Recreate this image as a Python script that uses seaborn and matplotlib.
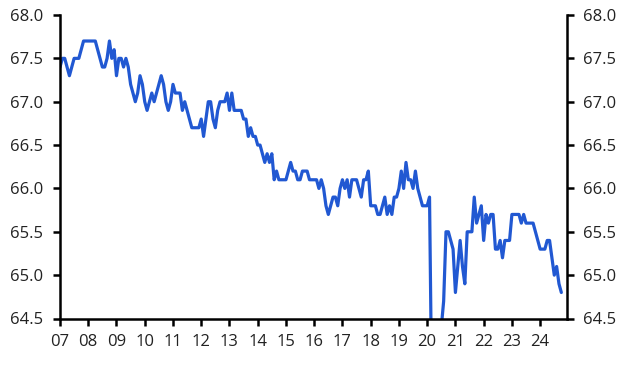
import numpy as np
import pandas as pd
import matplotlib
matplotlib.use("Agg")
import matplotlib.pyplot as plt
import seaborn as sns

# Monthly values, Jan 2007 onwards (one list per year)
y2007 = [67.4, 67.5, 67.5, 67.4, 67.3, 67.4, 67.5, 67.5, 67.5, 67.6, 67.7, 67.7]
y2008 = [67.7, 67.7, 67.7, 67.7, 67.6, 67.5, 67.4, 67.4, 67.5, 67.7, 67.5, 67.6]
y2009 = [67.3, 67.5, 67.5, 67.4, 67.5, 67.4, 67.2, 67.1, 67.0, 67.1, 67.3, 67.2]
y2010 = [67.0, 66.9, 67.0, 67.1, 67.0, 67.1, 67.2, 67.3, 67.2, 67.0, 66.9, 67.0]
y2011 = [67.2, 67.1, 67.1, 67.1, 66.9, 67.0, 66.9, 66.8, 66.7, 66.7, 66.7, 66.7]
y2012 = [66.8, 66.6, 66.8, 67.0, 67.0, 66.8, 66.7, 66.9, 67.0, 67.0, 67.0, 67.1]
y2013 = [66.9, 67.1, 66.9, 66.9, 66.9, 66.9, 66.8, 66.8, 66.6, 66.7, 66.6, 66.6]
y2014 = [66.5, 66.5, 66.4, 66.3, 66.4, 66.3, 66.4, 66.1, 66.2, 66.1, 66.1, 66.1]
y2015 = [66.1, 66.2, 66.3, 66.2, 66.2, 66.1, 66.1, 66.2, 66.2, 66.2, 66.1, 66.1]
y2016 = [66.1, 66.1, 66.0, 66.1, 66.0, 65.8, 65.7, 65.8, 65.9, 65.9, 65.8, 66.0]
y2017 = [66.1, 66.0, 66.1, 65.9, 66.1, 66.1, 66.1, 66.0, 65.9, 66.1, 66.1, 66.2]
y2018 = [65.8, 65.8, 65.8, 65.7, 65.7, 65.8, 65.9, 65.7, 65.8, 65.7, 65.9, 65.9]
y2019 = [66.0, 66.2, 66.0, 66.3, 66.1, 66.1, 66.0, 66.2, 66.0, 65.9, 65.8, 65.8]
y2020 = [65.8, 65.9, 63.5, 59.8, 61.0, 63.0, 64.4, 64.7, 65.5, 65.5, 65.4, 65.3]
y2021 = [64.8, 65.1, 65.4, 65.1, 64.9, 65.5, 65.5, 65.5, 65.9, 65.6, 65.7, 65.8]
y2022 = [65.4, 65.7, 65.6, 65.7, 65.7, 65.3, 65.3, 65.4, 65.2, 65.4, 65.4, 65.4]
y2023 = [65.7, 65.7, 65.7, 65.7, 65.6, 65.7, 65.6, 65.6, 65.6, 65.6, 65.5, 65.4]
y2024 = [65.3, 65.3, 65.3, 65.4, 65.4, 65.2, 65.0, 65.1, 64.9, 64.8]

years = list(range(2007, 2025))
series_by_year = [y2007, y2008, y2009, y2010, y2011, y2012, y2013, y2014, y2015,
                  y2016, y2017, y2018, y2019, y2020, y2021, y2022, y2023, y2024]

x_ticks = list(range(2007, 2025))
x_tick_labels = [f"{y % 100:02d}" for y in x_ticks]
y_ticks = [64.5, 65.0, 65.5, 66.0, 66.5, 67.0, 67.5, 68.0]

dates, values = [], []
for yr, vals in zip(years, series_by_year):
    for m, v in enumerate(vals):
        dates.append(yr + m / 12.0)
        values.append(v)
df = pd.DataFrame({"date": dates, "value": values})

sns.set_style("ticks")
plt.rcParams["font.family"] = ["Open Sans", "DejaVu Sans"]

fig = plt.figure(figsize=(6.32, 3.68), dpi=100)
ax = fig.add_axes([60 / 632, 1 - 318.5 / 368, (566.7 - 60) / 632, (318.5 - 15) / 368])

sns.lineplot(data=df, x="date", y="value", ax=ax, color="#2158D2", linewidth=2.3)

ax.set_xlim(2007, 2024.94)
ax.set_ylim(64.5, 68.0)
ax.set_xticks(x_ticks)
ax.set_xticklabels(x_tick_labels)
ax.set_yticks(y_ticks)
ax.set_yticklabels([f"{t:.1f}" for t in y_ticks])
ax.set_xlabel("")
ax.set_ylabel("")

for side in ["left", "right", "bottom"]:
    ax.spines[side].set_visible(True)
    ax.spines[side].set_linewidth(1.8)
    ax.spines[side].set_color("black")
ax.spines["top"].set_visible(False)

ax.tick_params(axis="y", which="both", left=True, right=True, labelleft=True,
               labelright=True, direction="out", length=5, width=1.8,
               colors="black", labelcolor="#222222", labelsize=12, pad=7)
ax.tick_params(axis="x", direction="out", length=5, width=1.8, colors="black",
               labelcolor="#222222", labelsize=12, pad=6)

fig.savefig("out.png", dpi=100)
